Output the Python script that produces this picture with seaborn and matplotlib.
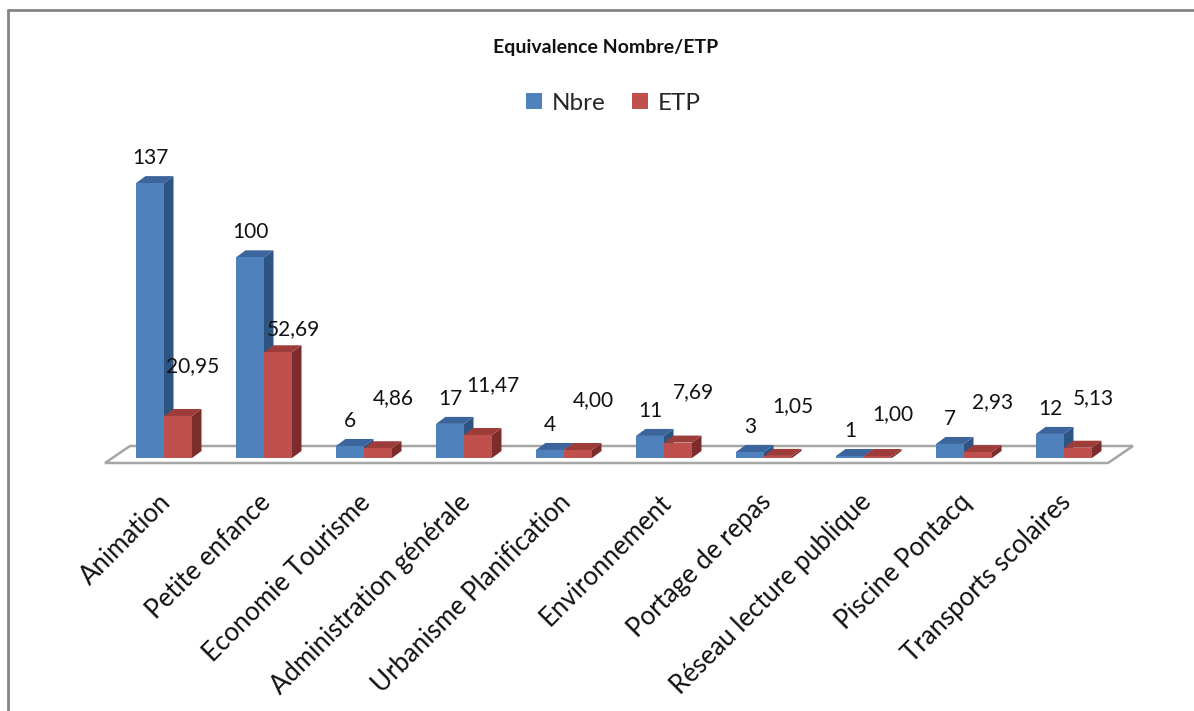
import matplotlib
matplotlib.use("Agg")
import matplotlib.pyplot as plt
import seaborn as sns
import pandas as pd
from matplotlib.patches import Polygon
from matplotlib.lines import Line2D
from matplotlib.transforms import ScaledTranslation

# ---- data ----
categories = ["Animation", "Petite enfance", "Economie Tourisme", "Administration générale",
              "Urbanisme Planification", "Environnement", "Portage de repas",
              "Réseau lecture publique", "Piscine Pontacq", "Transports scolaires"]
nbre = [137, 100, 6, 17, 4, 11, 3, 1, 7, 12]
etp = [20.95, 52.69, 4.86, 11.47, 4.00, 7.69, 1.05, 1.00, 2.93, 5.13]
series = ["Nbre", "ETP"]
title = "Equivalence Nombre/ETP"

df = pd.DataFrame({
    "cat": categories * 2,
    "serie": [series[0]] * len(nbre) + [series[1]] * len(etp),
    "val": nbre + etp,
})

sns.set_theme(style="white")
plt.rcParams["font.family"] = ["Lato", "DejaVu Sans"]

W, H = 1194, 711
fig = plt.figure(figsize=(W / 100, H / 100), dpi=100)
AX_W_PX, AX_H_PX = 1000, 308
ax = fig.add_axes([114 / W, (H - 458) / H, AX_W_PX / W, AX_H_PX / H])

front = {"Nbre": "#4F81BD", "ETP": "#C0504D"}
side = {"Nbre": "#2E5482", "ETP": "#7C2D2B"}
top = {"Nbre": "#3B659C", "ETP": "#9E3C39"}

sns.barplot(data=df, x="cat", y="val", hue="serie", hue_order=series, order=categories,
            palette=front, width=0.56, saturation=1, errorbar=None, ax=ax,
            linewidth=0, zorder=3)

YMAX = 153.5
ax.set_xlim(-0.5, len(categories) - 0.5)
ax.set_ylim(0, YMAX)
xpp = (len(categories)) / AX_W_PX   # data units per pixel (x)
ypp = YMAX / AX_H_PX                # data units per pixel (y)

# floor (3D base)
floor = Polygon([(-0.59, -5 * ypp), (9.44, -5 * ypp), (9.69, 12 * ypp), (-0.34, 12 * ypp)],
                closed=True, facecolor="white", edgecolor="#A6A6A6", linewidth=1.8,
                zorder=1, clip_on=False)
ax.add_patch(floor)

# 3D faces for each bar
dx, dy = 9.5 * xpp, 7 * ypp
for s, cont in zip(series, ax.containers):
    z = 2 if s == "Nbre" else 3
    for bar in cont:
        x0 = bar.get_x()
        x1 = x0 + bar.get_width()
        h = bar.get_height()
        bar.set_zorder(z + 0.5 if s == "ETP" else 2.6)
        ax.add_patch(Polygon([(x1, 0), (x1 + dx, dy), (x1 + dx, h + dy), (x1, h)],
                             closed=True, facecolor=side[s], edgecolor="none", zorder=z))
        ax.add_patch(Polygon([(x0, h), (x1, h), (x1 + dx, h + dy), (x0 + dx, h + dy)],
                             closed=True, facecolor=top[s], edgecolor="none", zorder=z))

# data labels
etp_lift = {1: 23, 7: 42}
for s, cont in zip(series, ax.containers):
    for i, bar in enumerate(cont):
        cx = bar.get_x() + bar.get_width() / 2
        h = bar.get_height()
        if s == "Nbre":
            txt = f"{int(round(h))}"
            off = (0, 25)
        else:
            txt = f"{h:.2f}".replace(".", ",")
            off = (15, etp_lift.get(i, 50))
        ax.annotate(txt, (cx, h), xytext=off, textcoords="offset pixels",
                    ha="center", va="center", fontsize=15, color="#111111", zorder=5)

# axes styling
for sp in ax.spines.values():
    sp.set_visible(False)
ax.set_xlabel("")
ax.set_ylabel("")
ax.set_yticks([])
ax.set_xticks(range(len(categories)))
ax.set_xticklabels(categories, rotation=45, ha="right", va="center",
                   rotation_mode="anchor", fontsize=18.5, color="#111111")
ax.tick_params(axis="x", length=0, pad=29)
for lbl in ax.get_xticklabels():
    lbl.set_transform(lbl.get_transform() + ScaledTranslation(0.03, 0, fig.dpi_scale_trans))

# legend
handles, labels = ax.get_legend_handles_labels()
if ax.get_legend() is not None:
    ax.get_legend().remove()
fig.legend(handles, labels, loc="center", bbox_to_anchor=(613 / W, 1 - 103 / H), ncol=2,
           frameon=False, handlelength=0.65, handleheight=0.65, handletextpad=0.4,
           columnspacing=1.1, fontsize=17.5)

# title
fig.text(606 / W, 1 - 47 / H, title, ha="center", va="center", fontweight="bold",
         fontsize=14, color="#111111")

# chart border (top and left visible)
fig.add_artist(Line2D([8 / W, 1], [1 - 10 / H, 1 - 10 / H], color="#858585", lw=2,
                      transform=fig.transFigure))
fig.add_artist(Line2D([8 / W, 8 / W], [0, 1 - 10 / H], color="#858585", lw=2,
                      transform=fig.transFigure))

fig.savefig("out.png", dpi=100)
